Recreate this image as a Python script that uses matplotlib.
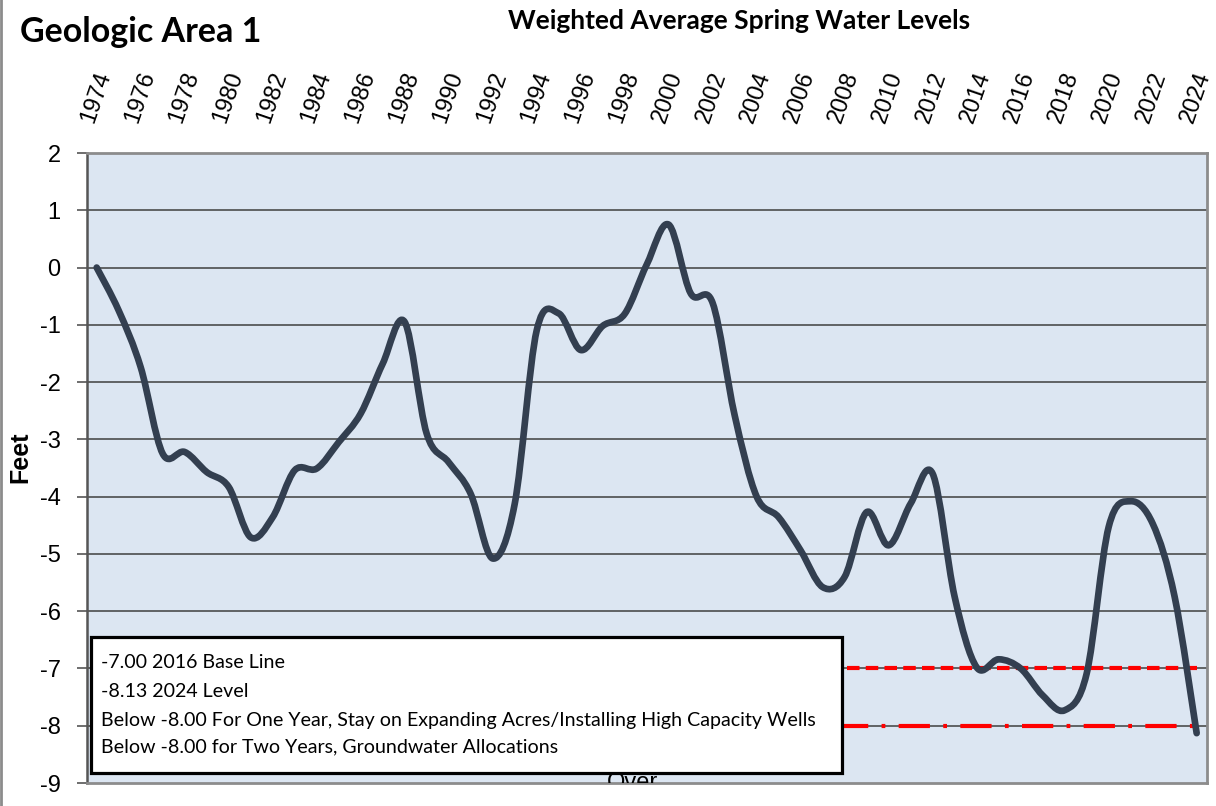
import numpy as np
import matplotlib
matplotlib.use("Agg")
import matplotlib.pyplot as plt
import matplotlib.transforms as mtransforms
from matplotlib.path import Path
from matplotlib.patches import PathPatch, Rectangle
from matplotlib.lines import Line2D

# Weighted average spring water level, feet
years = list(range(1974, 2025))
levels = [0.0, -0.75, -1.74, -3.25, -3.22, -3.57, -3.83, -4.71, -4.36, -3.54,
          -3.51, -3.05, -2.55, -1.68, -0.95, -2.9, -3.4, -3.95, -5.08, -4.13,
          -1.1, -0.8, -1.44, -1.02, -0.81, 0.05, 0.75, -0.45, -0.62, -2.58,
          -4.0, -4.36, -4.94, -5.58, -5.4, -4.27, -4.85, -4.12, -3.6, -5.75,
          -6.98, -6.84, -7.0, -7.47, -7.73, -7.09, -4.53, -4.08, -4.47, -5.75,
          -8.13]
base_line = -7.00
trigger_line = -8.00
tick_years = years[::2]
y_ticks = list(range(-9, 3))

notes = ["-7.00 2016 Base Line",
         "-8.13 2024 Level",
         "Below -8.00 For One Year, Stay on Expanding Acres/Installing High Capacity Wells",
         "Below -8.00 for Two Years, Groundwater Allocations"]
note_baselines = [668, 697, 726, 752]  # pixels from top

W, H = 1216, 806
fig = plt.figure(figsize=(W / 100, H / 100), dpi=100)
ax = fig.add_axes([87 / W, 1 - 783 / H, 1120 / W, 630 / H])
ax.set_facecolor("#DCE6F2")


def smooth_path(xs, ys):
    # bezier segments like a spreadsheet "smoothed line"
    pts = np.column_stack([xs, ys]).astype(float)
    n = len(pts)
    verts = [pts[0]]
    codes = [Path.MOVETO]
    for i in range(n - 1):
        p0 = pts[i - 1] if i > 0 else pts[i]
        p1 = pts[i]
        p2 = pts[i + 1]
        p3 = pts[i + 2] if i + 2 < n else pts[i + 1]
        verts += [p1 + (p2 - p0) / 6, p2 - (p3 - p1) / 6, p2]
        codes += [Path.CURVE4] * 3
    return Path(verts, codes)


# grid lines
for v in y_ticks[1:-1]:
    ax.axhline(v, color="#3f3f3f", lw=1.1, zorder=1)

# reference lines
ax.plot([years[0], years[-1]], [base_line] * 2, color="red", lw=3.0,
        linestyle=(0, (3, 1.5)), zorder=2)
ax.plot([years[0], years[-1]], [trigger_line] * 2, color="red", lw=3.0,
        linestyle=(0, (7.5, 3.2, 0.9, 3.2)), zorder=2)

ax.add_patch(PathPatch(smooth_path(years, levels), fill=False,
                       edgecolor="#333F50", lw=4.8, capstyle="round",
                       joinstyle="round", zorder=3))

ax.set_xlim(1973.56, 2024.47)
ax.set_ylim(-9, 2)

ax.xaxis.tick_top()
ax.set_xticks(tick_years)
ax.set_xticklabels([str(y) for y in tick_years], rotation=71,
                   rotation_mode="anchor", ha="left", va="center",
                   fontsize=17, family="Liberation Sans")
ax.tick_params(axis="x", length=0, pad=22)
shift = mtransforms.ScaledTranslation(-0.09, 0, fig.dpi_scale_trans)
for lab in ax.get_xticklabels():
    lab.set_transform(lab.get_transform() + shift)

ax.set_yticks(y_ticks)
ax.set_yticklabels([str(v) for v in y_ticks], fontsize=17,
                   family="Liberation Sans")
ax.tick_params(axis="y", direction="out", length=7, width=1.2,
               color="#555555", pad=12)
ax.set_ylabel("Feet", fontsize=18, fontweight="bold", family="Liberation Sans")
ax.yaxis.set_label_coords(-0.049, 0.517)

for side in ["top", "right", "bottom"]:
    ax.spines[side].set_color("#8c8c8c")
    ax.spines[side].set_linewidth(2)
ax.spines["left"].set_color("#555555")
ax.spines["left"].set_linewidth(1.8)

# hidden legend text peeking out below the note box
ax.text(0.487, -0.0095, "Over", transform=ax.transAxes, ha="center",
        va="baseline", fontsize=17, family="Liberation Sans",
        clip_on=True, zorder=4)

# note box
fig.add_artist(Rectangle((91 / W, 1 - 773 / H), 751 / W, 136 / H,
                         transform=fig.transFigure, facecolor="white",
                         edgecolor="black", lw=2.3, zorder=5))
for line, yb in zip(notes, note_baselines):
    fig.text(101 / W, 1 - yb / H, line, fontsize=14.1,
             family=["Liberation Sans Narrow", "Lato"],
             va="baseline", zorder=6)

fig.text(20 / W, 1 - 42 / H, "Geologic Area 1", fontsize=24.5,
         fontweight="bold", family="Lato")
fig.text(739 / W, 1 - 29 / H, "Weighted Average Spring Water Levels",
         fontsize=19, fontweight="bold", family="Lato", ha="center")

fig.add_artist(Line2D([0.001, 0.001], [0, 1], transform=fig.transFigure,
                      color="#8c8c8c", lw=2))

fig.savefig("out.png", dpi=100)
